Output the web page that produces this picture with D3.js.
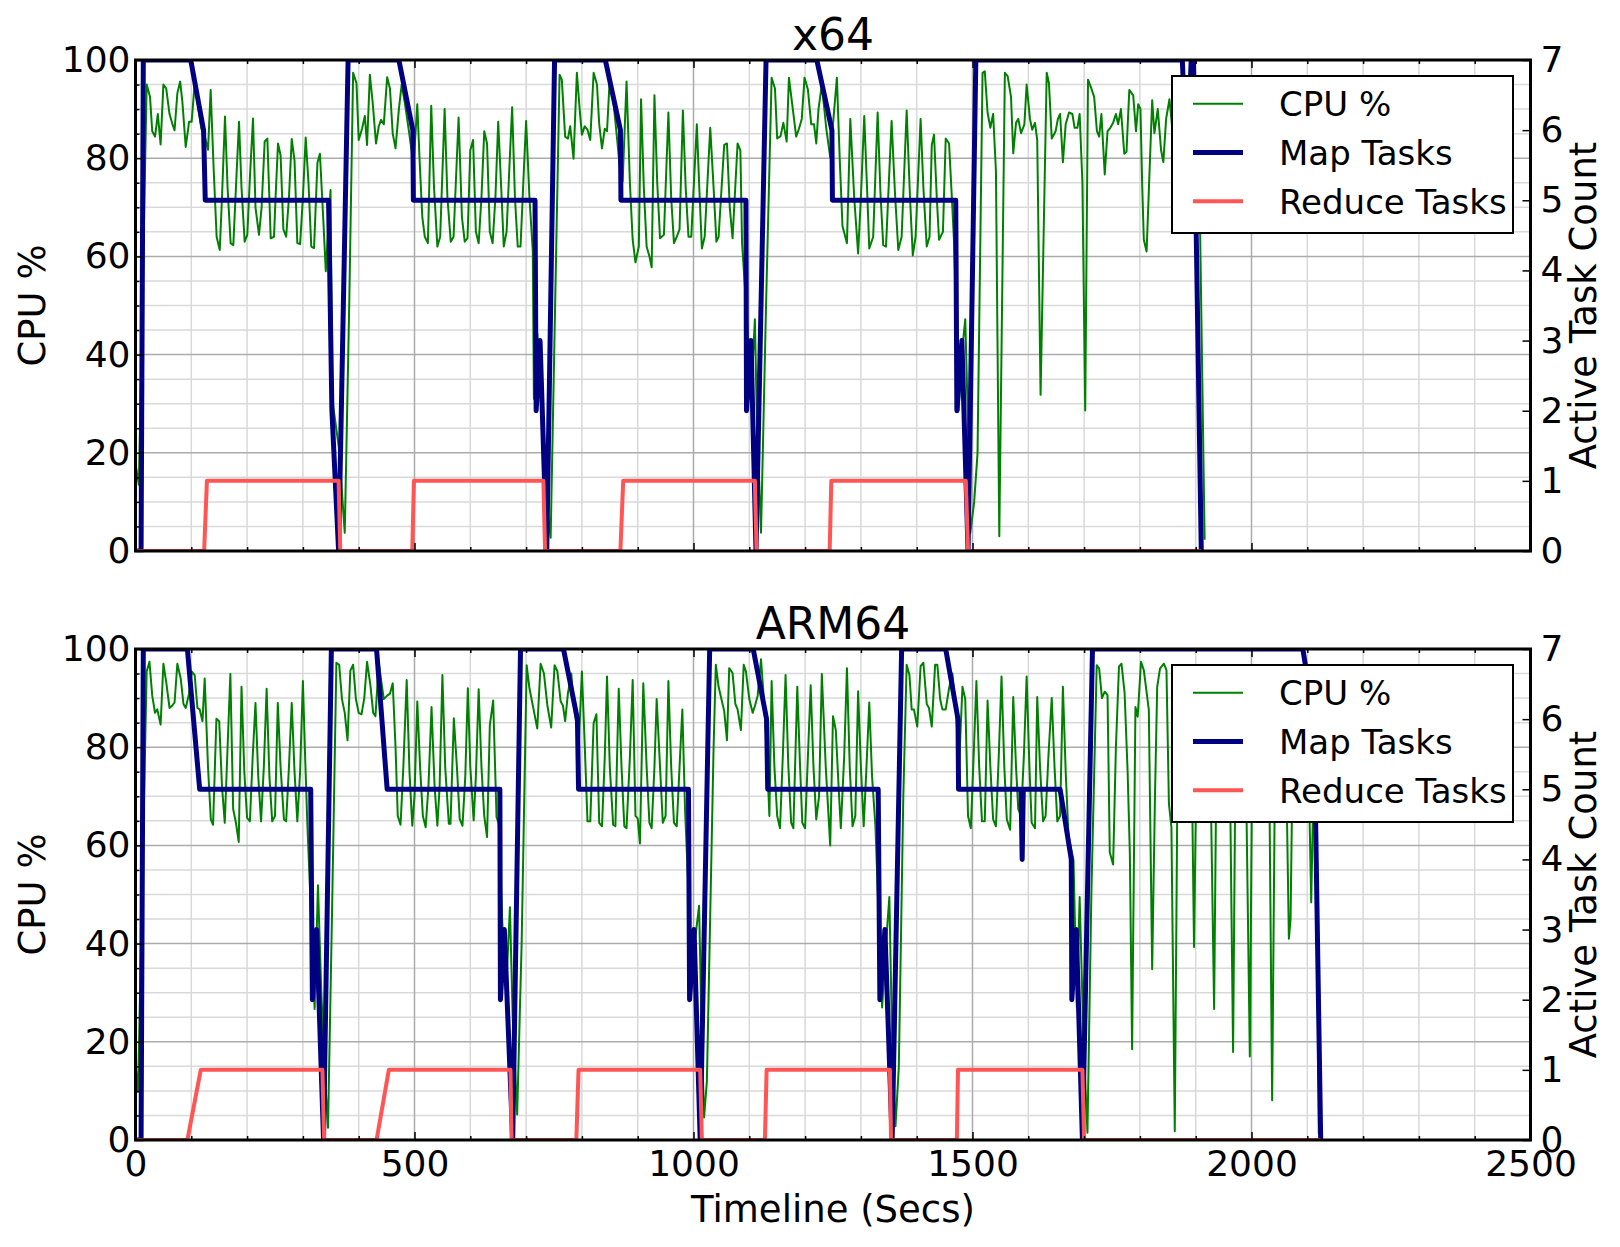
<!DOCTYPE html>
<html>
<head>
<meta charset="utf-8">
<script src="https://cdn.jsdelivr.net/npm/d3@7"></script>
<style>
  body { margin: 0; background: #fff; }
  svg { display: block; font-family: "DejaVu Sans", sans-serif; }
  .tick text { font-family: "DejaVu Sans", sans-serif; }
</style>
</head>
<body>
<div id="container"></div>
<script>
// ---- data: [seconds, value] ----
const cpuX64 = [[0,17.8],[6,13.5],[20,95],[26,92.5],[30,85.5],[35,84.4],[40,89],[45,82.8],[50,95],[55,94.2],[61,89],[66,87],[70,85.7],[75,93.2],[80,95.6],[84,91.5],[90,82.3],[96,87.4],[100.6,87.4],[106,95.2],[118,86],[125,84],[130,81.7],[134.7,93.9],[140,78],[145.4,64],[151,61.3],[155,72],[160.4,88.5],[165,74],[170.5,62.7],[175.3,62.3],[180,74],[185.5,87.4],[190,74],[195.6,63],[200.4,64.4],[205,76],[210.6,88.1],[215,70],[221.3,64.4],[226,70],[231.5,83.4],[236.3,84],[242.3,63.7],[248.2,64],[251,72],[255.4,83],[260,80.6],[265,65.5],[270,64],[275,72],[280,83.9],[285,79.5],[290,62.7],[295,62.5],[300,72],[305,84.2],[310,75],[315,62],[320,61.7],[326,79],[330.5,80.9],[336.5,67.6],[341,57],[349.5,73.5],[352.5,31],[358.5,26],[364.5,21],[375,3.7],[383,50],[390,97.4],[396,95.3],[400,83.7],[406,86],[411,88.6],[415,82.7],[420,97],[425,91.4],[431,83],[436,86.5],[440,87.8],[445,86.9],[451,96.5],[456,94.2],[461,85],[466,82],[472,90],[477,95],[483,91],[490,85.5],[496,80.5],[499,80],[505,91],[509,80],[514,68],[518.5,64],[524,62.7],[530,90.7],[535,74],[541,62],[546,64],[554,90],[559,72],[565,63],[570,64],[579,88.3],[585,68],[590,63],[595,63.7],[600,81.6],[605,83.7],[610,65],[615,62.7],[620,72],[625,85.5],[630,83],[635,65],[640,62.7],[645,72],[650,87.4],[655,75],[660,62],[665,65],[670,78],[675,90.4],[680,72],[685,62],[690,62],[695,75],[700,87.6],[706,72],[712,61],[714,31],[720,44.4],[726,33],[732,15],[744,2.7],[752,50],[760,97],[764,96],[770,84.4],[775,84],[779,86.5],[785,79.9],[791,97.4],[796,90],[800,84.8],[805,86.5],[810,85.8],[815,83.7],[821,97.4],[827,95],[831,87],[836,82],[841,86],[845,85.5],[850,96.4],[857,91],[863,84],[868,78],[873,75.3],[880,95.6],[886,75],[891,63.4],[896,58.8],[902,62],[906,92],[911,74],[916,62],[921,60],[925,57.8],[930,92.8],[935,75],[940,63.7],[947,64.4],[955,89.3],[960,72],[965,62.7],[970,64],[975,65.5],[981,89.7],[986,74],[991,64],[996,64],[1006,86.9],[1010,75],[1015,61.6],[1020,64],[1030,86.2],[1036,74],[1041,63],[1045,64],[1055,82.7],[1060,83],[1065,70],[1070,63.7],[1079,83],[1084,81.6],[1087,62.7],[1096,47.2],[1101,31],[1106,38],[1110,47.2],[1113,30],[1121,3.7],[1130,50],[1140,96.4],[1146,94.2],[1150,84],[1156,84.5],[1161,87.2],[1167,83.4],[1171,96.4],[1178,90],[1184,84.4],[1189,86],[1194,88],[1199,96.4],[1205,94],[1211,86.9],[1216,86.9],[1220,83],[1224,90],[1230,95],[1238,86],[1245,80.2],[1257,96.4],[1262,80],[1267,66.2],[1275,62.7],[1281,88],[1288,72],[1295,60.6],[1300,72],[1306,88.6],[1311,74],[1315,61.6],[1322,64],[1330,89.3],[1335,73],[1340,62.3],[1345,62],[1355,87.6],[1361,73],[1367,61.3],[1373,64],[1382,89.7],[1388,72],[1393,60.2],[1398,64],[1407,88],[1412,74],[1418,62],[1423,64],[1427,82.7],[1431,84.8],[1436,72],[1440,63.4],[1447,65],[1452,84],[1458,83],[1463,72],[1467,62.7],[1471,47],[1475,28.6],[1482,41.6],[1487,47.2],[1491,30],[1496,3.7],[1503,10],[1509,19.9],[1518,97.4],[1522,97.7],[1527,89.3],[1532,86.2],[1537,89],[1542,77.4],[1548,3],[1558,97.4],[1563,96.7],[1569,92.5],[1573,81],[1578,87.2],[1582,88],[1587,85.1],[1593,86.9],[1597,95],[1603,88],[1607,85.8],[1612,87.2],[1616,83.7],[1622,31.8],[1633,97.4],[1637,95.3],[1642,84],[1649,85.5],[1653,88],[1657,89],[1662,79.2],[1667,86.9],[1673,89.3],[1679,89],[1683,86.2],[1688,86.2],[1692,89],[1697,75],[1702,28.6],[1707,96],[1713,94.2],[1718,92.5],[1723,85.5],[1727,84.4],[1731,89],[1737,76.7],[1742,85.5],[1747,86.2],[1752,87.2],[1757,89],[1761,86.9],[1766,90],[1772,80.9],[1776,81.3],[1781,93.9],[1788,92.8],[1793,85.5],[1797,91],[1801,90],[1804,75],[1807,63.4],[1812,61],[1822,91.8],[1826,85.1],[1832,90],[1838,81.6],[1842,79.2],[1847,88],[1853,92],[1858,86],[1864,90],[1870,84],[1876,88],[1882,91],[1888,85],[1895,89],[1902,86],[1906,80],[1916,2.3]];
const mapX64 = [[0,0],[10,0],[14,7],[99,7],[122,6],[125,5],[346,5],[348,4],[352,2],[364,0],[381,7],[472,7],[497,6],[498,5],[716,5],[718,2],[725,3],[737,0],[751,7],[842,7],[869,6],[870,5],[1094,5],[1095,2],[1103,3],[1112,0],[1130,7],[1221,7],[1248,6],[1249,5],[1470,5],[1472,2],[1481,3],[1492,0],[1506,7],[1876,7],[1884,5.5],[1892,7],[1896,7],[1910,0]];
const reduceX64 = [[0,0],[123,0],[128,1],[364,1],[367,0],[496,0],[499,1],[731,1],[734,0],[869,0],[874,1],[1110,1],[1113,0],[1244,0],[1247,1],[1488,1],[1492,0],[1910,0]];

const cpuArm = [[0,15.4],[4.5,9.8],[20,95.4],[25,97.4],[30,90.5],[35,87],[39,87.7],[45,84.6],[50,97],[55,93.3],[61,88],[66,88.5],[70,89.1],[75,97],[81,94],[86,88.8],[90,88],[96,90.9],[101,95.4],[106,94.7],[111,88],[115,87.7],[120,85.3],[124,94],[130,75.8],[135,65.3],[139,64.2],[145,85.8],[150,85.3],[155,72],[160,64.6],[165,80],[170,94.9],[175,67.4],[180,64.6],[185,60.7],[190,92.3],[195,75],[200,65.6],[205,64.9],[210,78],[215,89],[220,74],[225,64.9],[230,76],[235,91.9],[240,74],[245,64.9],[250,66],[255,89],[260,76],[266,65.3],[270,64.9],[275,76],[280,89],[285,75],[290,64.9],[295,75],[300,93.5],[304,78],[308,64.2],[315,45],[321,26.7],[327,51.9],[333,30],[340,12],[345,2.5],[352,45],[360,97.2],[365,96.8],[370,89.8],[375,87],[380,81.4],[385,95.6],[390,96.8],[395,89.8],[400,87],[405,86.7],[410,90],[415,97.4],[421,92.6],[426,87],[430,86.3],[436,97.2],[441,93],[445,89.8],[451,90.5],[456,90.9],[461,93],[466,80],[470,66],[475,64.2],[480,76],[486,93.7],[491,75],[496,64],[500,70],[505,89.3],[510,76],[515,66],[520,63.7],[525,72],[530.5,88.2],[536,72],[541,64],[545,72],[550,94.7],[555,76],[561.5,64.4],[564.5,64.4],[570.5,85.9],[576,76],[581,65.4],[586,64],[591,74],[595.6,92],[600,76],[606,65.1],[610,74],[615,91.8],[620,76],[625,66],[630,61.7],[635,84.5],[641,89.5],[647,65.8],[651,64.4],[657,45],[664,30],[671,47.4],[676,25],[684,5.2],[692,40],[701,96.7],[706,92],[713,87.9],[720,83.8],[726,97],[732,95],[738,88.6],[745,84],[751,96.7],[756,95.5],[762,89.3],[766,88.5],[770,85.3],[775,91],[781,95],[785,88.8],[791,84],[794,79.3],[800,95.4],[805,80.7],[810,64.9],[815,64.9],[821,84.9],[826,86.7],[831,64.6],[836,63.9],[841,78],[845,94.4],[850,76],[856,64.2],[860,63.9],[866,91.9],[871,76],[876,63.9],[880,63.5],[886,78],[891,93.7],[896,66],[900,65.5],[904,60.4],[910,93],[916,76],[921,64.6],[925,63.5],[930,76],[934,89.8],[940,76],[945,64.6],[950,66],[955,93.5],[960,76],[965,64.6],[970,63.9],[975,76],[980,87.7],[985,66.7],[991,51],[995,28.8],[1002,40],[1010,47.7],[1015,20],[1019,4.6],[1024,12],[1036,80],[1040,96.8],[1045,92.3],[1050,89.8],[1055,87.4],[1060,81.4],[1064,96.1],[1070,95.1],[1075,88.8],[1079,87.7],[1085,83.5],[1090,96.8],[1094,95.4],[1100,89.8],[1106,87],[1110,88.4],[1115,90.5],[1121,97.9],[1126,90],[1131,80],[1136,66],[1140,93.5],[1145,76],[1150,66],[1155,63.5],[1160,78],[1165,94.7],[1170,76],[1175,64.6],[1179,63.5],[1186,92.3],[1191,76],[1195,64.6],[1200,63.5],[1205,78],[1210,92.6],[1215,76],[1220,65.3],[1225,70],[1230,94.9],[1237,76],[1245,60],[1250,86.3],[1255,83.5],[1260,72],[1264,63.5],[1270,78],[1275,96.1],[1280,76],[1285,63.9],[1290,66],[1295,91.4],[1300,76],[1305,63.9],[1310,76],[1315,89.1],[1320,74],[1326,64],[1332,45],[1338,27],[1345,40],[1351,49.5],[1356,20],[1362,2.8],[1368,15],[1376,70],[1382,96.8],[1387,94.7],[1391,87.7],[1395,87.7],[1401,84.2],[1407,96.5],[1412,97.2],[1418,88.8],[1422,88],[1427,84.2],[1433,96.8],[1437,96.8],[1442,89.8],[1446,87.7],[1452,87.7],[1458,92],[1464,95],[1470,88],[1476,76.5],[1482,92.3],[1487,89.8],[1492,66],[1497,63.5],[1502,78],[1507,93.5],[1512,76],[1517,64.9],[1522,64.9],[1527,89.5],[1532,76],[1537,65.3],[1542,63.9],[1547,78],[1552,94.4],[1557,76],[1561.5,65.3],[1567.5,63.2],[1573,90.2],[1578,76],[1582,67.4],[1587,66],[1592,78],[1597,94.4],[1602,76],[1606,64.6],[1612,63.5],[1616,90.2],[1621,76],[1626.5,64.9],[1631,66],[1636,78],[1642,90],[1647,76],[1652,64.9],[1657,66],[1662,92.3],[1667,75],[1672,62],[1681,57],[1687,27],[1692,49.5],[1699,20],[1706,1.5],[1713,50],[1722.6,96.7],[1727,96],[1732,90],[1737,91.3],[1742,90.6],[1746,58.6],[1752,56.1],[1757,80],[1762.5,96.4],[1767,97],[1772.6,91],[1778,75],[1782,58.3],[1786,18.5],[1792,88.2],[1796,86.2],[1802,97.4],[1807,95.7],[1816,87.6],[1822,34.8],[1827,70],[1831,92.3],[1836,96],[1843,97],[1847.6,95.7],[1852,68.5],[1856.5,63.7],[1862.5,1.8],[1866.7,64.4],[1872,90],[1878,96],[1885,90],[1892,85],[1897,39.3],[1903,90],[1910,96.5],[1918,92],[1925,86],[1933,26.7],[1938,88],[1945,96],[1952,93],[1960,88],[1967,17.9],[1972,88],[1980,96],[1988,92],[1997,17],[2002,88],[2010,96],[2018,93],[2025,88],[2031,85],[2037,8.1],[2043,88],[2050,95],[2058,90],[2063,70],[2067,41],[2070,45],[2074,80],[2080,94],[2087,96],[2094,90],[2100,85],[2104,66],[2107,48.4],[2110,66],[2113,68],[2116.4,64],[2120.6,1.4],[2126.6,0.8]];
const mapArm = [[0,0],[10,0],[14,7],[93,7],[115,5],[314,5],[317,2],[324.6,3],[337,0],[351,7],[432,7],[451,5],[653,5],[654,2],[661,3],[676,0],[690,7],[767,7],[792,6],[794,5],[991,5],[993,2],[1001,3],[1012,0],[1029,7],[1107,7],[1131,6],[1133,5],[1331,5],[1334,2],[1343,3],[1356,0],[1373,7],[1452,7],[1474,6],[1475,5],[1587,5],[1589,4],[1591,5],[1657,5],[1677,4],[1678,2],[1686,3],[1697,0],[1715,7],[2092,7],[2112,6],[2124,0]];
const reduceArm = [[0,0],[93,0],[117,1],[335,1],[338,0],[432,0],[454,1],[672,1],[674,0],[790,0],[794,1],[1012,1],[1015,0],[1128,0],[1131,1],[1352,1],[1354,0],[1472,0],[1474,1],[1697,1],[1700,0],[2124,0]];

const xTicks = [0, 500, 1000, 1500, 2000, 2500];
const cpuTicks = [0, 20, 40, 60, 80, 100];
const taskTicks = [0, 1, 2, 3, 4, 5, 6, 7];
const legendLabels = ["CPU %", "Map Tasks", "Reduce Tasks"];

// ---- layout ----
const width = 1620, height = 1247;
const left = 135.5, right = 1530.5;
const panels = [
    {title: "x64", top: 60, bottom: 551, cpu: cpuX64, map: mapX64, reduce: reduceX64, xLabels: false},
    {title: "ARM64", top: 649, bottom: 1140, cpu: cpuArm, map: mapArm, reduce: reduceArm, xLabels: true}
];
const colors = {cpu: "#008000", map: "#000080", reduce: "#ff5555"};
const widths = {cpu: 2, map: 5, reduce: 4};

const svg = d3.select("#container").append("svg")
    .attr("width", width)
    .attr("height", height);
svg.append("rect").attr("width", width).attr("height", height).attr("fill", "#fff");

const x = d3.scaleLinear().domain([0, 2500]).range([left, right]);

panels.forEach((p, i) => {
    const yCpu = d3.scaleLinear().domain([0, 100]).range([p.bottom, p.top]);
    const yTask = d3.scaleLinear().domain([0, 7]).range([p.bottom, p.top]);
    const g = svg.append("g");

    const clipId = "clip" + i;
    svg.append("clipPath").attr("id", clipId)
        .append("rect")
        .attr("x", left).attr("y", p.top)
        .attr("width", right - left).attr("height", p.bottom - p.top);

    // grid: minor then major
    const minorX = d3.range(0, 2501, 100).filter(v => v % 500 !== 0);
    const minorY = d3.range(0, 101, 5).filter(v => v % 20 !== 0);
    const grid = g.append("g");
    grid.selectAll(".gxm").data(minorX).join("line")
        .attr("x1", d => x(d)).attr("x2", d => x(d))
        .attr("y1", p.top).attr("y2", p.bottom)
        .attr("stroke", "#d9d9d9").attr("stroke-width", 1.5);
    grid.selectAll(".gym").data(minorY).join("line")
        .attr("x1", left).attr("x2", right)
        .attr("y1", d => yCpu(d)).attr("y2", d => yCpu(d))
        .attr("stroke", "#d9d9d9").attr("stroke-width", 1.5);
    grid.selectAll(".gxM").data(xTicks).join("line")
        .attr("x1", d => x(d)).attr("x2", d => x(d))
        .attr("y1", p.top).attr("y2", p.bottom)
        .attr("stroke", "#ababab").attr("stroke-width", 1.5);
    grid.selectAll(".gyM").data(cpuTicks).join("line")
        .attr("x1", left).attr("x2", right)
        .attr("y1", d => yCpu(d)).attr("y2", d => yCpu(d))
        .attr("stroke", "#ababab").attr("stroke-width", 1.5);

    // series
    const plot = g.append("g").attr("clip-path", `url(#${clipId})`);
    const lineCpu = d3.line().x(d => x(d[0])).y(d => yCpu(d[1]));
    const lineTask = d3.line().x(d => x(d[0])).y(d => yTask(d[1]));
    plot.append("path").datum(p.cpu).attr("d", lineCpu)
        .attr("fill", "none").attr("stroke", colors.cpu).attr("stroke-width", widths.cpu)
        .attr("stroke-linejoin", "round");
    plot.append("path").datum(p.map).attr("d", lineTask)
        .attr("fill", "none").attr("stroke", colors.map).attr("stroke-width", widths.map)
        .attr("stroke-linejoin", "round");
    plot.append("path").datum(p.reduce).attr("d", lineTask)
        .attr("fill", "none").attr("stroke", colors.reduce).attr("stroke-width", widths.reduce)
        .attr("stroke-linejoin", "round");

    // legend
    const lg = g.append("g").attr("transform", `translate(1172,${p.top + 16})`);
    lg.append("rect").attr("width", 341).attr("height", 157)
        .attr("fill", "#fff").attr("stroke", "#000").attr("stroke-width", 2);
    const keys = ["cpu", "map", "reduce"];
    legendLabels.forEach((lab, k) => {
        const yy = 27.7 + k * 48.8;
        lg.append("line").attr("x1", 21).attr("x2", 71).attr("y1", yy).attr("y2", yy)
            .attr("stroke", colors[keys[k]]).attr("stroke-width", widths[keys[k]]);
        lg.append("text").attr("x", 107).attr("y", yy).attr("dy", "0.36em")
            .attr("font-size", 34).attr("fill", "#000").text(lab);
    });

    // frame
    g.append("rect").attr("x", left).attr("y", p.top)
        .attr("width", right - left).attr("height", p.bottom - p.top)
        .attr("fill", "none").attr("stroke", "#000").attr("stroke-width", 3);

    // axes (ticks inward)
    const noDomain = (ax) => ax.selectAll(".domain").remove();
    const axB = d3.axisBottom(x).tickValues(xTicks).tickSize(-8).tickPadding(10)
        .tickFormat(p.xLabels ? d3.format("d") : "");
    g.append("g").attr("transform", `translate(0,${p.bottom})`).call(axB).call(noDomain);
    g.append("g").attr("transform", `translate(0,${p.bottom})`)
        .call(d3.axisBottom(x).tickValues(minorX).tickSize(-4).tickFormat("")).call(noDomain);
    g.append("g").attr("transform", `translate(0,${p.top})`)
        .call(d3.axisTop(x).tickValues(xTicks).tickSize(-8).tickFormat("")).call(noDomain);
    g.append("g").attr("transform", `translate(0,${p.top})`)
        .call(d3.axisTop(x).tickValues(minorX).tickSize(-4).tickFormat("")).call(noDomain);
    g.append("g").attr("transform", `translate(${left},0)`)
        .call(d3.axisLeft(yCpu).tickValues(cpuTicks).tickSize(-8).tickPadding(5)
            .tickFormat(d3.format("d"))).call(noDomain);
    g.append("g").attr("transform", `translate(${left},0)`)
        .call(d3.axisLeft(yCpu).tickValues(minorY).tickSize(-4).tickFormat("")).call(noDomain);
    g.append("g").attr("transform", `translate(${right},0)`)
        .call(d3.axisRight(yTask).tickValues(taskTicks).tickSize(-8).tickPadding(10)
            .tickFormat(d3.format("d"))).call(noDomain);

    g.selectAll(".tick line").attr("stroke", "#000").attr("stroke-width", 1.5);
    g.selectAll(".tick text").attr("font-size", 36).attr("fill", "#000");

    // titles and labels
    g.append("text").attr("x", (left + right) / 2).attr("y", p.top - 10)
        .attr("text-anchor", "middle").attr("font-size", 44).text(p.title);
    const cy = (p.top + p.bottom) / 2;
    g.append("text").attr("transform", `translate(32,${cy}) rotate(-90)`)
        .attr("text-anchor", "middle").attr("dy", "0.36em")
        .attr("font-size", 37).text("CPU %");
    g.append("text").attr("transform", `translate(1583,${cy}) rotate(-90)`)
        .attr("text-anchor", "middle").attr("dy", "0.36em")
        .attr("font-size", 37).text("Active Task Count");
    if (p.xLabels) {
        g.append("text").attr("x", (left + right) / 2).attr("y", 1222)
            .attr("text-anchor", "middle").attr("font-size", 37).text("Timeline (Secs)");
    }
});
</script>
</body>
</html>
